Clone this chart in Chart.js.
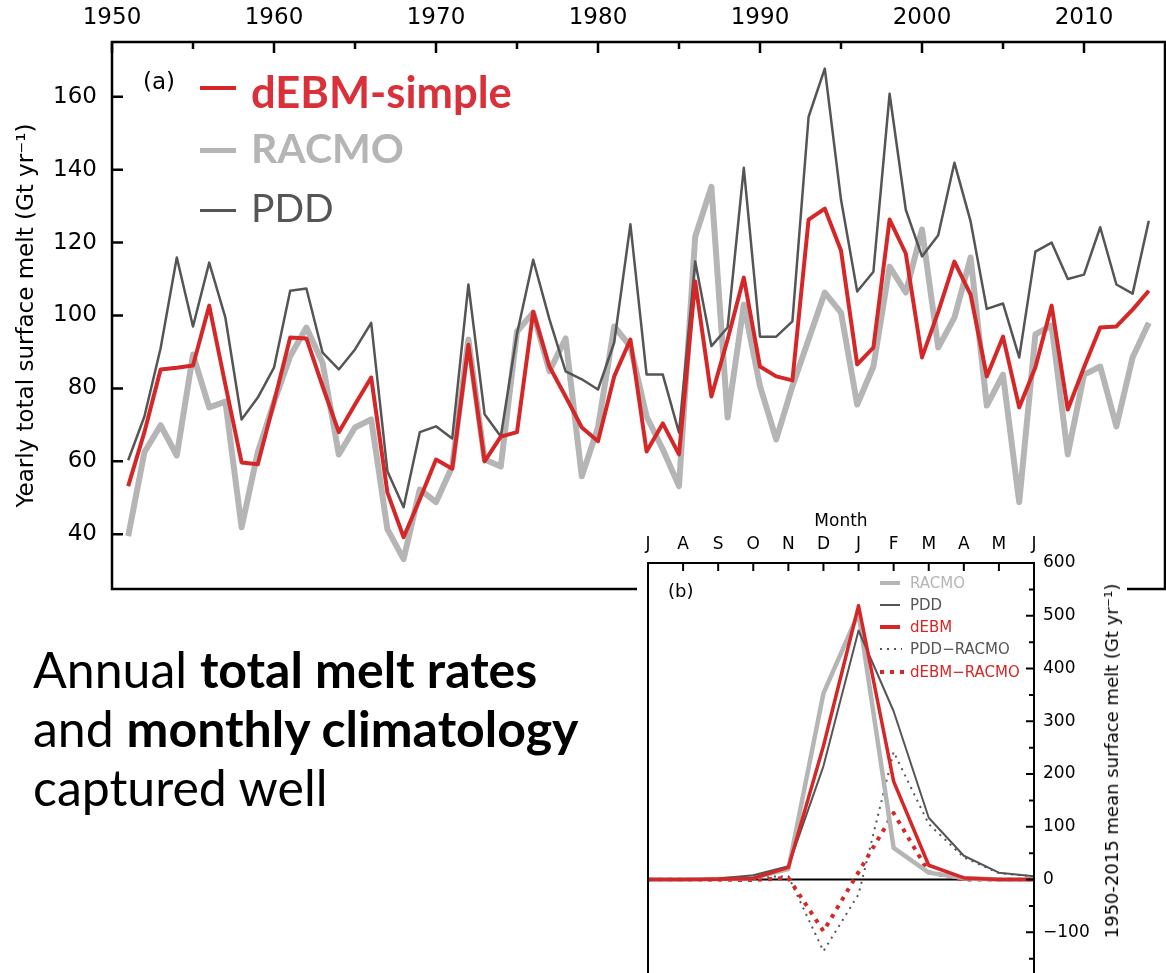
<!DOCTYPE html>
<html>
<head>
<meta charset="utf-8">
<script src="https://cdn.jsdelivr.net/npm/chart.js@4.4.0/dist/chart.umd.min.js"></script>
<style>
  html, body { margin: 0; padding: 0; background: #fff; }
  #page { position: relative; width: 1166px; height: 973px; overflow: hidden; font-family: "DejaVu Sans", sans-serif; }
  #mainWrap { position: absolute; left: 0; top: 0; width: 1166px; height: 600px; }
  #insetWrap { position: absolute; left: 637px; top: 505px; width: 490px; height: 490px; background: #fff; }
  .abs { position: absolute; white-space: nowrap; line-height: 1; }
  .lead { font-family: Lato, sans-serif; }
  .swatch { position: absolute; }
  .small { font-family: "DejaVu Sans", sans-serif; font-size: 15px; }
  #blurb { position: absolute; left: 33px; top: 640px; font-family: Lato, sans-serif; font-size: 50px; line-height: 59px; color: #000; white-space: nowrap; }
  #blurb b { font-weight: 700; }
</style>
</head>
<body>
<div id="page">
  <div id="mainWrap"><canvas id="mainChart" width="1166" height="600"></canvas></div>

  <div class="abs" style="left:143px; top:70px; font-size:23px;">(a)</div>
  <div class="swatch" style="left:200px; top:86px; width:36px; height:4px; background:#d62728;"></div>
  <div class="abs lead" style="left:251px; top:70px; font-size:43.5px; font-weight:700; color:#d9303a;">dEBM-simple</div>
  <div class="swatch" style="left:200px; top:148px; width:36px; height:5px; background:#b5b5b5;"></div>
  <div class="abs lead" style="left:251px; top:127px; font-size:41px; font-weight:700; color:#b5b5b5;">RACMO</div>
  <div class="swatch" style="left:200px; top:209px; width:36px; height:3px; background:#555;"></div>
  <div class="abs lead" style="left:251px; top:188px; font-size:39px; color:#555;">PDD</div>

  <div id="blurb">Annual <b>total melt rates</b><br>and <b>monthly climatology</b><br>captured well</div>

  <div id="insetWrap"><canvas id="insetChart" width="490" height="490"></canvas></div>

  <div class="abs" style="left:668px; top:582px; font-size:18px;">(b)</div>
  <div class="swatch" style="left:880px; top:581px; width:20px; height:4px; background:#b5b5b5;"></div>
  <div class="abs small" style="left:910px; top:576px; color:#b5b5b5;">RACMO</div>
  <div class="swatch" style="left:880px; top:604px; width:20px; height:2px; background:#555;"></div>
  <div class="abs small" style="left:910px; top:598px; color:#555;">PDD</div>
  <div class="swatch" style="left:880px; top:625px; width:20px; height:3.5px; background:#d62728;"></div>
  <div class="abs small" style="left:910px; top:620px; color:#d62728;">dEBM</div>
  <div class="swatch" style="left:880px; top:648px; width:22px; height:2px; background:repeating-linear-gradient(to right, #555 0 2px, transparent 2px 7px);"></div>
  <div class="abs small" style="left:910px; top:642px; color:#555;">PDD−RACMO</div>
  <div class="swatch" style="left:880px; top:670px; width:24px; height:4px; background:repeating-linear-gradient(to right, #d62728 0 4px, transparent 4px 10px);"></div>
  <div class="abs small" style="left:910px; top:665px; color:#d62728;">dEBM−RACMO</div>

  <div class="abs" style="left:1112px; top:761px; font-size:18px; transform: translate(-50%, -50%) rotate(-90deg);">1950-2015 mean surface melt (Gt yr⁻¹)</div>
</div>

<script>
const RED = '#d62728';
const LIGHT = '#b5b5b5';
const DARK = '#555555';

// (a) yearly totals, Gt/yr
const years = [1951, 1952, 1953, 1954, 1955, 1956, 1957, 1958, 1959, 1960,
  1961, 1962, 1963, 1964, 1965, 1966, 1967, 1968, 1969, 1970,
  1971, 1972, 1973, 1974, 1975, 1976, 1977, 1978, 1979, 1980,
  1981, 1982, 1983, 1984, 1985, 1986, 1987, 1988, 1989, 1990,
  1991, 1992, 1993, 1994, 1995, 1996, 1997, 1998, 1999, 2000,
  2001, 2002, 2003, 2004, 2005, 2006, 2007, 2008, 2009, 2010,
  2011, 2012, 2013, 2014];

const debm = [53.2, 68, 85.2, 85.7, 86.3, 102.7, 81, 59.7, 59.2, 76.2,
  94, 93.7, 80.6, 68, 75.6, 83, 51.5, 39.2, 49.6, 60.5,
  58, 92, 60, 66.8, 68, 101, 86, 77.8, 69.3, 65.5,
  83.3, 93.4, 62.7, 70.4, 61.9, 109.3, 77.8, 93.4, 110.4, 86,
  83.3, 82.2, 126.3, 129.3, 117.8, 86.6, 91.2, 126.3, 117, 88.5,
  101, 114.8, 105.7, 83.3, 94.2, 74.8, 85.8, 102.7, 74.2, 85.8,
  96.7, 97, 101.6, 106.8];

const pdd = [60.3, 72.3, 91, 115.9, 97, 114.5, 99.4, 71.5, 77.5, 85.7,
  106.8, 107.4, 89.8, 85.2, 90.7, 98, 57.3, 47.4, 68, 69.6,
  66.3, 108.5, 72.9, 66.8, 95, 115.3, 99, 84.7, 82.5, 79.7,
  92.6, 125, 83.8, 83.8, 67.9, 114.8, 91.6, 96.7, 140.5, 94.2,
  94.2, 98.4, 154.5, 167.7, 131.8, 106.6, 112, 160.8, 129, 116.2,
  122, 141.9, 125.8, 101.8, 103.3, 88.5, 117.5, 120, 110, 111.2,
  124.2, 108.5, 106, 126];

const racmo = [39.5, 62.5, 69.9, 61.6, 89.3, 74.8, 76.4, 41.9, 62.5, 76.2,
  88.8, 96.7, 87, 61.9, 69.3, 71.5, 41.4, 33.2, 52.3, 48.8,
  58.6, 93.4, 60.5, 58.6, 95.6, 100.8, 84.7, 93.7, 55.9, 69.3,
  97, 91.5, 72.3, 63.3, 53.2, 121.6, 135.3, 72, 103, 80.6,
  66, 80.6, 93.4, 106.3, 100.8, 75.6, 86, 113.4, 106.3, 123.6,
  91.2, 99.4, 115.9, 75.3, 83.8, 48.8, 94.8, 97.3, 61.9, 83.8,
  86, 69.6, 88.5, 98];

const yearTicks = [1950, 1960, 1970, 1980, 1990, 2000, 2010];
const yearMinorTicks = [1955, 1965, 1975, 1985, 1995, 2005];
const meltTicks = [40, 60, 80, 100, 120, 140, 160];

// (b) monthly climatology, Jul..Jun
const monthLabels = ['J', 'A', 'S', 'O', 'N', 'D', 'J', 'F', 'M', 'A', 'M', 'J'];
const racmoMonthly = [0, 0, 1, 3, 20, 353, 505, 60, 13, 3, 0, 0];
const pddMonthly = [0, 0, 2, 8, 25, 215, 472, 319, 117, 45, 13, 6];
const debmMonthly = [0, 0, 0.5, 2, 23, 253, 519, 186, 27, 3, 0, 0];
const pddMinusRacmo = [0, 0, 1, 5, 6, -136, -28, 242, 105, 42, 12, 6];
const debmMinusRacmo = [0, 0, -0.5, -1, 3, -98, 14, 126, 14, 0, 0, 0];

const monthlyTicks = [-100, 0, 100, 200, 300, 400, 500, 600];
const monthlyMinorTicks = [-150, -50, 50, 150, 250, 350, 450, 550];

function pairs(xs, ys) {
  return xs.map((x, i) => ({ x: x, y: ys[i] }));
}

// no label overhang padding, the plot box is placed by hand
function noPad(s) {
  s.paddingTop = 0;
  s.paddingBottom = 0;
  s.paddingLeft = 0;
  s.paddingRight = 0;
}

// box round the plot area with inward ticks, matplotlib style
const frameTicks = {
  id: 'frameTicks',
  afterDraw(chart, args, o) {
    const { ctx, chartArea: a } = chart;
    const xs = chart.scales.x, ys = chart.scales.y;
    ctx.save();
    ctx.strokeStyle = '#000';
    ctx.lineWidth = o.width;
    ctx.strokeRect(a.left, a.top, a.right - a.left, a.bottom - a.top);
    ctx.beginPath();
    const xt = (vals, len) => vals.forEach(v => {
      const p = xs.getPixelForValue(v);
      ctx.moveTo(p, a.top);
      ctx.lineTo(p, a.top + len);
    });
    const edge = o.ySide === 'right' ? a.right : a.left;
    const dir = o.ySide === 'right' ? -1 : 1;
    const yt = (vals, len) => vals.forEach(v => {
      const p = ys.getPixelForValue(v);
      ctx.moveTo(edge, p);
      ctx.lineTo(edge + dir * len, p);
    });
    xt(o.xMajor || [], o.major);
    xt(o.xMinor || [], o.minor);
    yt(o.yMajor || [], o.major);
    yt(o.yMinor || [], o.minor);
    ctx.stroke();
    ctx.restore();
  }
};

const zeroLine = {
  id: 'zeroLine',
  beforeDatasetsDraw(chart, args, o) {
    if (!o.show) return;
    const { ctx, chartArea: a } = chart;
    const p = chart.scales.y.getPixelForValue(0);
    ctx.save();
    ctx.strokeStyle = '#000';
    ctx.lineWidth = 2;
    ctx.beginPath();
    ctx.moveTo(a.left, p);
    ctx.lineTo(a.right, p);
    ctx.stroke();
    ctx.restore();
  }
};

const tickFont = { family: 'DejaVu Sans', size: 23 };

new Chart(document.getElementById('mainChart'), {
  type: 'line',
  data: {
    datasets: [
      { label: 'dEBM-simple', data: pairs(years, debm), borderColor: RED, borderWidth: 4 },
      { label: 'PDD', data: pairs(years, pdd), borderColor: DARK, borderWidth: 2.5 },
      { label: 'RACMO', data: pairs(years, racmo), borderColor: LIGHT, borderWidth: 6 }
    ]
  },
  options: {
    responsive: false,
    animation: false,
    layout: { padding: { left: 0, top: 0, right: 1, bottom: 11 } },
    elements: {
      point: { radius: 0 },
      line: { tension: 0, borderJoinStyle: 'round', fill: false }
    },
    plugins: {
      legend: { display: false },
      tooltip: { enabled: false },
      zeroLine: { show: false },
      frameTicks: { width: 2.5, major: 11, minor: 7, ySide: 'left',
        xMajor: yearTicks, xMinor: yearMinorTicks, yMajor: meltTicks }
    },
    scales: {
      x: {
        type: 'linear', position: 'top', min: 1950, max: 2015,
        afterBuildTicks: s => { s.ticks = yearTicks.map(v => ({ value: v })); },
        afterFit: s => { s.height = 42; noPad(s); },
        grid: { display: false, drawTicks: false },
        border: { display: false },
        ticks: { padding: 10, color: '#000', font: tickFont, autoSkip: false, maxRotation: 0,
          callback: v => String(v) }
      },
      y: {
        min: 25, max: 175,
        afterBuildTicks: s => { s.ticks = meltTicks.map(v => ({ value: v })); },
        afterFit: s => { s.width = 112; noPad(s); },
        grid: { display: false, drawTicks: false },
        border: { display: false },
        ticks: { padding: 15, color: '#000', font: tickFont, callback: v => String(v) },
        title: { display: true, text: 'Yearly total surface melt (Gt yr⁻¹)', color: '#000',
          font: tickFont, padding: { top: 13, bottom: 0 } }
      }
    }
  },
  plugins: [frameTicks, zeroLine]
});

const smallFont = { family: 'DejaVu Sans', size: 17 };

new Chart(document.getElementById('insetChart'), {
  type: 'line',
  data: {
    labels: monthLabels,
    datasets: [
      { label: 'dEBM', data: debmMonthly, borderColor: RED, borderWidth: 3.5, order: 1 },
      { label: 'PDD', data: pddMonthly, borderColor: DARK, borderWidth: 2, order: 2 },
      { label: 'RACMO', data: racmoMonthly, borderColor: LIGHT, borderWidth: 4.5, order: 3 },
      { label: 'dEBM−RACMO', data: debmMinusRacmo, borderColor: RED, borderWidth: 4,
        borderDash: [4, 6], order: 4 },
      { label: 'PDD−RACMO', data: pddMinusRacmo, borderColor: DARK, borderWidth: 2,
        borderDash: [2, 5], order: 5 }
    ]
  },
  options: {
    responsive: false,
    animation: false,
    layout: { padding: { left: 11, top: 0, right: 0, bottom: 10 } },
    elements: {
      point: { radius: 0 },
      line: { tension: 0, borderJoinStyle: 'round', fill: false }
    },
    plugins: {
      legend: { display: false },
      tooltip: { enabled: false },
      zeroLine: { show: true },
      frameTicks: { width: 2, major: 8, minor: 5, ySide: 'right',
        xMajor: monthLabels.map((m, i) => i), yMajor: monthlyTicks, yMinor: monthlyMinorTicks }
    },
    scales: {
      x: {
        type: 'category', position: 'top', offset: false,
        afterFit: s => { s.height = 58; noPad(s); },
        grid: { display: false, drawTicks: false },
        border: { display: false },
        ticks: { padding: 8, color: '#000', font: smallFont, autoSkip: false, maxRotation: 0 },
        title: { display: true, text: 'Month', color: '#000', font: smallFont,
          padding: { top: 6, bottom: 0 } }
      },
      y: {
        position: 'right', min: -200, max: 600,
        afterBuildTicks: s => { s.ticks = monthlyTicks.map(v => ({ value: v })); },
        afterFit: s => { s.width = 93; noPad(s); },
        grid: { display: false, drawTicks: false },
        border: { display: false },
        ticks: { padding: 9, color: '#000', font: smallFont,
          callback: v => (v < 0 ? '−' + Math.abs(v) : String(v)) }
      }
    }
  },
  plugins: [frameTicks, zeroLine]
});
</script>
</body>
</html>
